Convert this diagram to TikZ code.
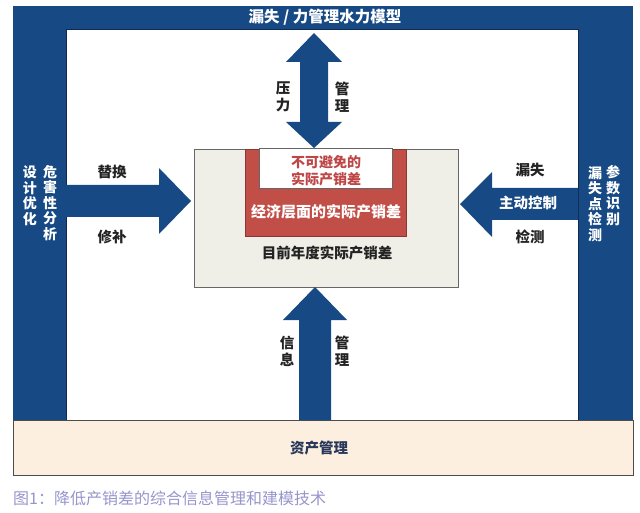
\documentclass[tikz,border=0pt]{standalone}
\usepackage{fontspec}
\setmainfont{Noto Sans CJK SC}
\definecolor{blueC}{RGB}{23,74,132}
\definecolor{redC}{RGB}{194,78,72}
\definecolor{redT}{RGB}{190,70,70}
\definecolor{coreC}{RGB}{240,239,231}
\definecolor{bandC}{RGB}{252,239,223}
\definecolor{capC}{RGB}{150,150,205}
\definecolor{labC}{RGB}{35,35,35}
\definecolor{bandT}{RGB}{40,55,90}
\tikzset{
  rect/.style={anchor=north west, inner sep=0pt, outer sep=0pt},
  lab/.style={font=\bfseries\fontsize{14.5pt}{17pt}\selectfont, text=labC, inner sep=0pt, align=center},
  vlab/.style={font=\bfseries\fontsize{14pt}{15.5pt}\selectfont, text=white, inner sep=0pt, align=center},
  barrow/.style={fill=blueC}
}
\begin{document}
\begin{tikzpicture}[x=1pt,y=-1pt]
\useasboundingbox (0,0) rectangle (640,513);
\fill[white] (0,0) rectangle (640,513);
% outer blue frame and inner white area
\node[rect, fill=blueC, minimum width=620pt, minimum height=414pt] (frame) at (13,6) {};
\node[rect, fill=white, draw=blueC!60!black, line width=0.6pt, minimum width=512pt, minimum height=391pt] (inner) at (66,29) {};
\node[lab, text=white, font=\bfseries\fontsize{15.5pt}{17pt}\selectfont] (title) at (325,17.5) {漏失 / 力管理水力模型};
% bottom band
\node[rect, fill=bandC, draw=black!70, line width=0.8pt, minimum width=620pt, minimum height=55pt] (band) at (13,420) {};
\node[lab, text=bandT] (bandtxt) at (319,448) {资产管理};
% central boxes
\node[rect, fill=coreC, draw=black!60, line width=0.8pt, minimum width=264pt, minimum height=138pt] (core) at (194,149) {};
\node[rect, fill=redC, draw=redC!70!black, line width=0.6pt, minimum width=161pt, minimum height=87pt] (econ) at (245,149) {};
\node[rect, fill=white, draw=black!60, line width=0.6pt, minimum width=133pt, minimum height=40pt] (unav) at (259,148) {};
\node[lab, text=redT, font=\bfseries\fontsize{14pt}{17pt}\selectfont] (unavtxt) at (326,170.5) {不可避免的\\实际产销差};
\node[lab, text=white, font=\bfseries\fontsize{15pt}{17pt}\selectfont] (econtxt) at (326,212) {经济层面的实际产销差};
\node[lab] (coretxt) at (327,253) {目前年度实际产销差};
% top double arrow
\coordinate (ttop) at (314,33);
\coordinate (tbot) at (314,148);
\fill[barrow] (ttop) -- (342,62) -- (328,62) -- (328,122) -- (342,122) -- (tbot)
  -- (286,122) -- (300,122) -- (300,62) -- (286,62) -- cycle;
\node[lab] (ya) at (283,96.5) {压\\力};
\node[lab] (gl1) at (342,97) {管\\理};
% bottom arrow
\coordinate (btip) at (315,287);
\fill[barrow] (btip) -- (347,320) -- (331,320) -- (331,420) -- (299,420) -- (299,320) -- (283,320) -- cycle;
\node[lab] (xx) at (287,351.5) {信\\息};
\node[lab] (gl2) at (342,351.5) {管\\理};
% left arrow
\coordinate (ltip) at (191,201);
\fill[barrow] (65,185) -- (159,185) -- (159,168) -- (ltip) -- (159,234) -- (159,217) -- (65,217) -- cycle;
\node[lab] (th) at (112,172) {替换};
\node[lab] (xb) at (112,237) {修补};
% right arrow
\coordinate (rtip) at (460,204);
\fill[barrow] (578,188) -- (492,188) -- (492,172) -- (rtip) -- (492,237) -- (492,220) -- (578,220) -- cycle;
\node[lab] (ls) at (530,170) {漏失};
\node[lab, text=white] (zd) at (528,203) {主动控制};
\node[lab] (jc) at (530,237) {检测};
% vertical texts on side bars
\node[vlab] (wh) at (50,203) {危\\害\\性\\分\\析};
\node[vlab] (sj) at (30,195.5) {设\\计\\优\\化};
\node[vlab] (ld) at (595,204) {漏\\失\\点\\检\\测};
\node[vlab] (cs) at (613,195.5) {参\\数\\识\\别};
% caption
\node[anchor=west, inner sep=0pt, text=capC, font=\fontsize{16pt}{18pt}\selectfont] (cap) at (13,498) {图1：降低产销差的综合信息管理和建模技术};
\end{tikzpicture}
\end{document}
